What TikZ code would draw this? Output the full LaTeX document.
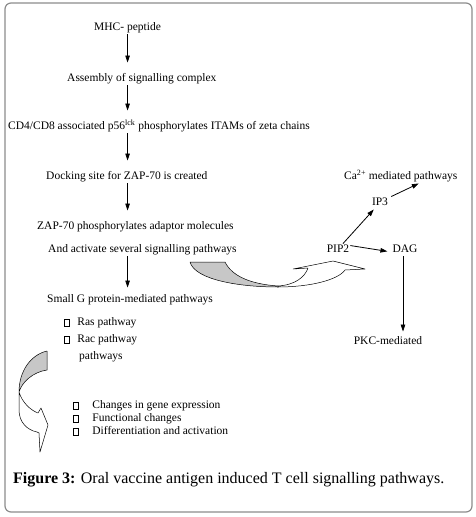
\documentclass[tikz,border=0pt]{standalone}
\usepackage{fontspec}
\setmainfont{Liberation Serif}
\usepackage{tikz}
\usetikzlibrary{arrows.meta, positioning, calc}

\newcommand{\glyphbox}{{\setlength{\fboxsep}{0.6pt}\setlength{\fboxrule}{0.6pt}\fbox{\rule{0pt}{5.5pt}\rule{2.8pt}{0pt}}}}

\begin{document}
\begin{tikzpicture}[
  x=1pt, y=-1pt,
  >=Triangle,
  txt/.style   ={inner sep=1pt, anchor=west, text height=8pt, text depth=2.5pt,
                 font=\fontsize{11.5}{13}\selectfont},
  ctxt/.style  ={txt, anchor=center},
  arr/.style   ={-{Triangle[length=7pt, width=4.5pt]}, line width=0.8pt, shorten >=10pt},
  rarr/.style  ={-{Triangle[length=7pt, width=4.5pt]}, line width=0.8pt},
  ribbon/.style={draw=black, line width=0.5pt, line join=round},
  back/.style  ={ribbon, fill=black!22},
  frame/.style ={draw=black!45, line width=1.2pt, rounded corners=6pt},
]
\useasboundingbox (0,0) rectangle (476,517);
\draw[frame] (5,3) rectangle (472,512);

% --- Left column: main cascade ---
\node[txt] (mhc)  at (93,28)  {MHC- peptide};
\node[txt] (asm)  at (66,79)  {Assembly of signalling complex};
\node[txt] (cd)   at (7,127)  {CD4/CD8 associated p56\textsuperscript{lck} phosphorylates ITAMs of zeta chains};
\node[txt] (dock) at (45,177) {Docking site for ZAP-70 is created};
\node[txt] (zap)  at (36,227) {ZAP-70 phosphorylates adaptor molecules};
\node[txt] (act)  at (47,250) {And activate several signalling pathways};
\node[txt] (smg)  at (46,300) {Small G protein-mediated pathways};

\draw[arr] (mhc.south) -- (mhc.south |- asm.north);
\draw[arr] (asm.south -| mhc.south) -- (cd.north -| mhc.south);
\draw[arr] (cd.south -| mhc.south) -- (dock.north -| mhc.south);
\draw[arr] (dock.south -| mhc.south) -- (zap.north -| mhc.south);
\draw[arr, shorten >=6pt] (act.south -| mhc.south) -- (smg.north -| mhc.south);

% --- Small G protein branches ---
\node[txt] (ras) at (63,323) {\glyphbox\hspace{8pt}Ras pathway};
\node[txt] (rac) at (63,340) {\glyphbox\hspace{8pt}Rac pathway};
\node[txt] (pw)  at (78,357) {pathways};

% --- Outcomes ---
\node[txt] (chg) at (72,406) {\glyphbox\hspace{14pt}Changes in gene expression};
\node[txt] (fun) at (72,419) {\glyphbox\hspace{14pt}Functional changes};
\node[txt] (dif) at (72,432) {\glyphbox\hspace{14pt}Differentiation and activation};

% --- Right side: PIP2 branch ---
\node[txt]  (ca)  at (343,177) {Ca\textsuperscript{2+} mediated pathways};
\node[ctxt] (ip)  at (380,203) {IP3};
\node[ctxt] (pip) at (338,250) {PIP2};
\node[ctxt] (dag) at (405,250) {DAG};
\node[ctxt] (pkc) at (388,342) {PKC-mediated};

\draw[rarr] ([xshift=5pt]pip.north) -- ([xshift=3pt]ip.south west);
\draw[rarr] ([xshift=2pt]ip.north east) -- ([xshift=18pt]ca.south);
\draw[rarr, shorten >=4pt] ([yshift=-2pt]pip.north east) -- ([yshift=-2pt]dag.west);
\draw[rarr, shorten >=4pt] ([xshift=-2pt]dag.south) -- ([xshift=-2pt]dag.south |- pkc.north);

% --- Curved block arrows ---
\path[back] (190,262) -- (225,262) .. controls (232,276) and (250,284) .. (278,286)
  -- (278,287) .. controls (240,287) and (195,280) .. (190,262) -- cycle;
\path[ribbon, fill=white] (278,286) .. controls (295,285) and (305,277) .. (308,268)
  -- (293,269) -- (333,261) -- (365,269) -- (345,270)
  .. controls (338,280) and (310,287) .. (278,287) -- cycle;

\path[back] (47,351) -- (47,370) .. controls (33,372) and (22,382) .. (19,392)
  .. controls (19,372) and (30,355) .. (47,351) -- cycle;
\path[ribbon, fill=white] (19,392) .. controls (22,402) and (30,410) .. (38,413)
  -- (41,408) -- (48,425) -- (40,452) -- (39,433) -- (37,432)
  .. controls (27,430) and (19,422) .. (19,410) -- cycle;

% --- Caption ---
\node[inner sep=0pt, anchor=west, font=\fontsize{16}{18}\selectfont] (cap) at (13,480)
  {\textbf{Figure 3:} Oral vaccine antigen induced T cell signalling pathways.};
\end{tikzpicture}
\end{document}
